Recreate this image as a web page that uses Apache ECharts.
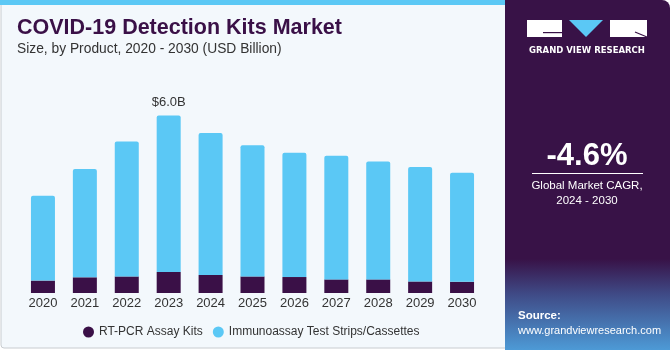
<!DOCTYPE html>
<html>
<head>
<meta charset="utf-8">
<script src="https://cdn.jsdelivr.net/npm/echarts@6/dist/echarts.min.js"></script>
<style>
  html, body { margin: 0; padding: 0; background: #ffffff; }
  #chart { width: 670px; height: 350px; }
</style>
</head>
<body>
<div id="chart"></div>
<script>
// covid-19 detection kits market, by product
var years = ['2020', '2021', '2022', '2023', '2024', '2025', '2026', '2027', '2028', '2029', '2030'];
var rtPcr = [0.42, 0.53, 0.56, 0.71, 0.61, 0.56, 0.54, 0.46, 0.46, 0.39, 0.38];
var immuno = [2.87, 3.66, 4.56, 5.29, 4.80, 4.44, 4.20, 4.18, 3.99, 3.87, 3.69];
var seriesNames = ['RT-PCR Assay Kits', 'Immunoassay Test Strips/Cassettes'];
var peakLabel = '$6.0B';
var peakIndex = 3;

var dark = '#3a1047';
var blue = '#5bc8f5';

var chart = echarts.init(document.getElementById('chart'), null, { renderer: 'canvas' });

var immunoData = immuno.map(function (v, i) {
    if (i === peakIndex) {
        return {
            value: v,
            label: {
                show: true,
                position: 'top',
                distance: 7,
                formatter: peakLabel,
                color: '#333',
                fontSize: 13,
                fontFamily: 'Liberation Sans'
            }
        };
    }
    return v;
});

var option = {
    animation: false,
    backgroundColor: '#ffffff',
    graphic: [
        // main background
        { type: 'rect', z: -10, shape: { x: 1, y: 0, width: 506, height: 348, r: [0, 0, 0, 3] },
          style: { fill: '#f3f8fc', stroke: '#c8ccd0', lineWidth: 1 } },
        { type: 'rect', z: -9, shape: { x: 0, y: 0, width: 506, height: 5 }, style: { fill: blue } },
        // right panel
        { type: 'rect', z: -8, shape: { x: 505, y: 0, width: 165, height: 350, r: [0, 8, 0, 0] },
          style: { fill: new echarts.graphic.LinearGradient(0, 0, 0, 1, [
              { offset: 0, color: '#381247' },
              { offset: 0.74, color: '#381247' },
              { offset: 0.84, color: '#3f4a86' },
              { offset: 1, color: '#4d9ad6' }
          ]) } },
        // logo
        { type: 'rect', shape: { x: 527, y: 20, width: 35, height: 17 }, style: { fill: '#ffffff' } },
        { type: 'rect', shape: { x: 543, y: 32, width: 19, height: 1.2 }, style: { fill: '#381247' } },
        { type: 'polygon', shape: { points: [[569, 20], [603, 20], [586, 37]] }, style: { fill: blue } },
        { type: 'rect', shape: { x: 610, y: 20, width: 37, height: 17 }, style: { fill: '#ffffff' } },
        { type: 'line', shape: { x1: 635, y1: 32, x2: 647, y2: 37 }, style: { stroke: '#381247', lineWidth: 1.2 } },
        { type: 'text', style: { text: 'GRAND VIEW RESEARCH', x: 587, y: 51, align: 'center', verticalAlign: 'middle',
          fill: '#ffffff', font: 'bold 8.5px "DejaVu Sans"' } },
        // cagr
        { type: 'text', style: { text: '-4.6%', x: 587, y: 156, align: 'center', verticalAlign: 'middle',
          fill: '#ffffff', font: 'bold 31px "Liberation Sans"' } },
        { type: 'line', shape: { x1: 532, y1: 173.5, x2: 643, y2: 173.5 }, style: { stroke: '#ffffff', lineWidth: 1 } },
        { type: 'text', style: { text: 'Global Market CAGR,', x: 587, y: 186, align: 'center', verticalAlign: 'middle',
          fill: '#ffffff', font: '11.5px "Liberation Sans"' } },
        { type: 'text', style: { text: '2024 - 2030', x: 587, y: 201, align: 'center', verticalAlign: 'middle',
          fill: '#ffffff', font: '11.5px "Liberation Sans"' } },
        // source
        { type: 'text', style: { text: 'Source:', x: 518, y: 316, verticalAlign: 'middle',
          fill: '#ffffff', font: 'bold 11.5px "Liberation Sans"' } },
        { type: 'text', style: { text: 'www.grandviewresearch.com', x: 518, y: 331, verticalAlign: 'middle',
          fill: '#ffffff', font: '11px "Liberation Sans"' } },
        // title
        { type: 'text', style: { text: 'COVID-19 Detection Kits Market', x: 17, y: 28, verticalAlign: 'middle',
          fill: dark, font: 'bold 21.5px "Liberation Sans"' } },
        { type: 'text', style: { text: 'Size, by Product, 2020 - 2030 (USD Billion)', x: 17, y: 49, verticalAlign: 'middle',
          fill: '#333333', font: '13.8px "Liberation Sans"' } }
    ],
    legend: {
        data: seriesNames,
        left: 78,
        top: 321,
        icon: 'circle',
        itemWidth: 11,
        itemHeight: 11,
        itemGap: 10,
        textStyle: { color: '#333', fontSize: 12, fontFamily: 'Liberation Sans' }
    },
    grid: {
        left: 22,
        right: 187,
        top: 86,
        bottom: 57
    },
    xAxis: {
        type: 'category',
        data: years,
        axisLine: { show: false },
        axisTick: { show: false },
        axisLabel: { color: '#333', fontSize: 13, margin: 4, fontFamily: 'Liberation Sans' }
    },
    yAxis: {
        type: 'value',
        min: 0,
        max: 7,
        show: false,
        splitLine: { show: false }
    },
    series: [
        {
            name: seriesNames[0],
            type: 'bar',
            stack: 'total',
            barWidth: 24,
            data: rtPcr,
            itemStyle: { color: dark }
        },
        {
            name: seriesNames[1],
            type: 'bar',
            stack: 'total',
            barWidth: 24,
            data: immunoData,
            itemStyle: { color: blue, borderRadius: [2, 2, 0, 0] }
        }
    ]
};

chart.setOption(option);
window.addEventListener('resize', function () {
    chart.resize();
});
</script>
</body>
</html>
